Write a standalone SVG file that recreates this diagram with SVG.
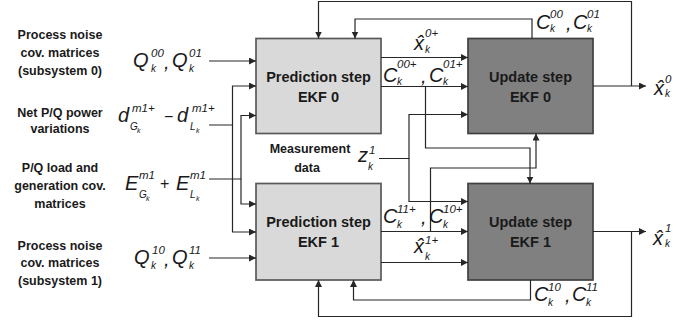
<svg xmlns="http://www.w3.org/2000/svg" width="695" height="327" viewBox="0 0 695 327">
  <style>
    .lbl { font-family: "Liberation Sans", Arial, sans-serif; font-weight: bold; font-size: 12.5px; fill: #1a1a1a; text-anchor: middle; }
    .bt { font-family: "Liberation Sans", Arial, sans-serif; font-weight: bold; font-size: 14.5px; fill: #1a1a1a; text-anchor: middle; }
    .m { font-family: "Liberation Sans", Arial, sans-serif; font-style: italic; font-size: 20px; fill: #1a1a1a; }
    .sp { font-family: "Liberation Sans", Arial, sans-serif; font-style: italic; font-size: 11.5px; fill: #1a1a1a; }
    .sb { font-family: "Liberation Sans", Arial, sans-serif; font-style: italic; font-size: 10px; fill: #1a1a1a; }
    .ss { font-family: "Liberation Sans", Arial, sans-serif; font-style: italic; font-size: 7px; fill: #1a1a1a; }
    .op { font-family: "Liberation Sans", Arial, sans-serif; font-size: 16px; fill: #1a1a1a; }
    .pred { fill: #d9d9d9; stroke: #595959; stroke-width: 1.7; }
    .upd { fill: #808080; stroke: #404040; stroke-width: 1.7; }
    .wire { fill: none; stroke: #262626; stroke-width: 1.2; }
    .arr { marker-end: url(#ah); }
  </style>
  <defs>
    <marker id="ah" markerUnits="userSpaceOnUse" markerWidth="8" markerHeight="8" refX="7" refY="3.5" orient="auto">
      <path d="M0,0 L7,3.5 L0,7 z" fill="#262626"/>
    </marker>
  </defs>

  <!-- input descriptions -->
  <g id="in-q0">
    <text class="lbl" x="60" y="39">Process noise</text>
    <text class="lbl" x="60" y="57">cov. matrices</text>
    <text class="lbl" x="60" y="75">(subsystem 0)</text>
    <text class="m" x="133" y="67">Q</text>
    <text class="sp" x="151" y="57">00</text>
    <text class="sb" x="151" y="72">k</text>
    <text class="m" x="164" y="69">,</text>
    <text class="m" x="172" y="67">Q</text>
    <text class="sp" x="189" y="57">01</text>
    <text class="sb" x="189" y="72">k</text>
  </g>
  <g id="in-d">
    <text class="lbl" x="60" y="117">Net P/Q power</text>
    <text class="lbl" x="60" y="133">variations</text>
    <text class="m" x="118" y="122">d</text>
    <text class="sp" x="132" y="112">m1+</text>
    <text class="sb" x="130" y="130">G</text>
    <text class="ss" x="137" y="133">k</text>
    <text class="op" x="164" y="122">−</text>
    <text class="m" x="177" y="122">d</text>
    <text class="sp" x="192" y="112">m1+</text>
    <text class="sb" x="190" y="130">L</text>
    <text class="ss" x="196" y="133">k</text>
  </g>
  <g id="in-e">
    <text class="lbl" x="60" y="172">P/Q load and</text>
    <text class="lbl" x="60" y="190">generation cov.</text>
    <text class="lbl" x="60" y="208">matrices</text>
    <text class="m" x="125" y="190">E</text>
    <text class="sp" x="139" y="179">m1</text>
    <text class="sb" x="139" y="198">G</text>
    <text class="ss" x="146" y="201">k</text>
    <text class="op" x="160" y="189">+</text>
    <text class="m" x="176" y="190">E</text>
    <text class="sp" x="190" y="179">m1</text>
    <text class="sb" x="190" y="198">L</text>
    <text class="ss" x="196" y="201">k</text>
  </g>
  <g id="in-q1">
    <text class="lbl" x="60" y="250">Process noise</text>
    <text class="lbl" x="60" y="267">cov. matrices</text>
    <text class="lbl" x="60" y="285">(subsystem 1)</text>
    <text class="m" x="134" y="264">Q</text>
    <text class="sp" x="152" y="254">10</text>
    <text class="sb" x="151" y="269">k</text>
    <text class="m" x="164" y="266">,</text>
    <text class="m" x="172" y="264">Q</text>
    <text class="sp" x="189" y="254">11</text>
    <text class="sb" x="189" y="269">k</text>
  </g>
  <g id="in-z">
    <text class="lbl" x="310" y="153">Measurement</text>
    <text class="lbl" x="307" y="172">data</text>
    <text class="m" x="358" y="162">z</text>
    <text class="sp" x="369" y="154">1</text>
    <text class="sb" x="368" y="170">k</text>
  </g>

  <!-- filter blocks -->
  <g id="pred0">
    <rect class="pred" x="256" y="38.5" width="125" height="95"/>
    <text class="bt" x="318.5" y="82">Prediction step</text>
    <text class="bt" x="318.5" y="102">EKF 0</text>
  </g>
  <g id="pred1">
    <rect class="pred" x="256" y="183.5" width="125" height="96.5"/>
    <text class="bt" x="318.5" y="227">Prediction step</text>
    <text class="bt" x="318.5" y="247">EKF 1</text>
  </g>
  <g id="upd0">
    <rect class="upd" x="468" y="38.5" width="125" height="95"/>
    <text class="bt" x="530.5" y="82">Update step</text>
    <text class="bt" x="530.5" y="102">EKF 0</text>
  </g>
  <g id="upd1">
    <rect class="upd" x="468" y="183.5" width="125" height="96.5"/>
    <text class="bt" x="530.5" y="227">Update step</text>
    <text class="bt" x="530.5" y="247">EKF 1</text>
  </g>

  <!-- connectors -->
  <g id="connectors">
    <path class="wire arr" d="M209,61 H256"/>
    <path class="wire arr" d="M209,125 H232.5 V86 H256"/>
    <path class="wire arr" d="M232.5,125 V232 H256"/>
    <path class="wire arr" d="M209,179 H241 V115.5 H256"/>
    <path class="wire arr" d="M241,179 V204 H256"/>
    <path class="wire arr" d="M209,258 H256"/>

    <path class="wire arr" d="M381,57.5 H468"/>
    <path class="wire arr" d="M381,86.5 H468"/>
    <path class="wire arr" d="M425.5,86.5 V148 H530 V183.5"/>
    <path class="wire arr" d="M381,231.5 H468"/>
    <path class="wire arr" d="M381,262.5 H468"/>
    <path class="wire arr" d="M430.5,231.5 V168 H536 V133.5"/>

    <path class="wire arr" d="M379,158.5 H409 V114.5 H468"/>
    <path class="wire arr" d="M409,158.5 V201.5 H468"/>

    <path class="wire arr" d="M593,86 H646"/>
    <path class="wire arr" d="M631.5,86 V1.5 H318.5 V38.5"/>
    <path class="wire arr" d="M532,38.5 V19 H355 V38.5"/>
    <path class="wire arr" d="M593,231.5 H646"/>
    <path class="wire arr" d="M631.5,231.5 V316.5 H318.5 V280"/>
    <path class="wire arr" d="M530.5,280 V300 H353.5 V280"/>
  </g>

  <!-- signal labels -->
  <g id="signal-labels">
    <text class="m" x="414" y="50">x&#x302;</text>
    <text class="sp" x="425" y="37">0+</text>
    <text class="sb" x="425" y="53">k</text>

    <text class="m" x="383" y="82">C</text>
    <text class="sp" x="397" y="68">00+</text>
    <text class="sb" x="397" y="85">k</text>
    <text class="m" x="421" y="83">,</text>
    <text class="m" x="429" y="82">C</text>
    <text class="sp" x="443" y="68">01+</text>
    <text class="sb" x="443" y="85">k</text>

    <text class="m" x="383" y="223">C</text>
    <text class="sp" x="397" y="213">11+</text>
    <text class="sb" x="397" y="228">k</text>
    <text class="m" x="421" y="224">,</text>
    <text class="m" x="429" y="223">C</text>
    <text class="sp" x="443" y="213">10+</text>
    <text class="sb" x="443" y="228">k</text>

    <text class="m" x="414" y="253">x&#x302;</text>
    <text class="sp" x="425" y="244">1+</text>
    <text class="sb" x="425" y="260">k</text>

    <text class="m" x="536" y="29">C</text>
    <text class="sp" x="550" y="18">00</text>
    <text class="sb" x="550" y="32">k</text>
    <text class="m" x="566" y="30">,</text>
    <text class="m" x="573" y="29">C</text>
    <text class="sp" x="587" y="18">01</text>
    <text class="sb" x="587" y="32">k</text>

    <text class="m" x="654" y="95">x&#x302;</text>
    <text class="sp" x="665" y="83">0</text>
    <text class="sb" x="665" y="97">k</text>

    <text class="m" x="653" y="245">x&#x302;</text>
    <text class="sp" x="665" y="232">1</text>
    <text class="sb" x="665" y="247">k</text>

    <text class="m" x="534" y="301">C</text>
    <text class="sp" x="548" y="291">10</text>
    <text class="sb" x="548" y="306">k</text>
    <text class="m" x="565" y="302">,</text>
    <text class="m" x="572" y="301">C</text>
    <text class="sp" x="586" y="291">11</text>
    <text class="sb" x="586" y="306">k</text>
  </g>
</svg>
